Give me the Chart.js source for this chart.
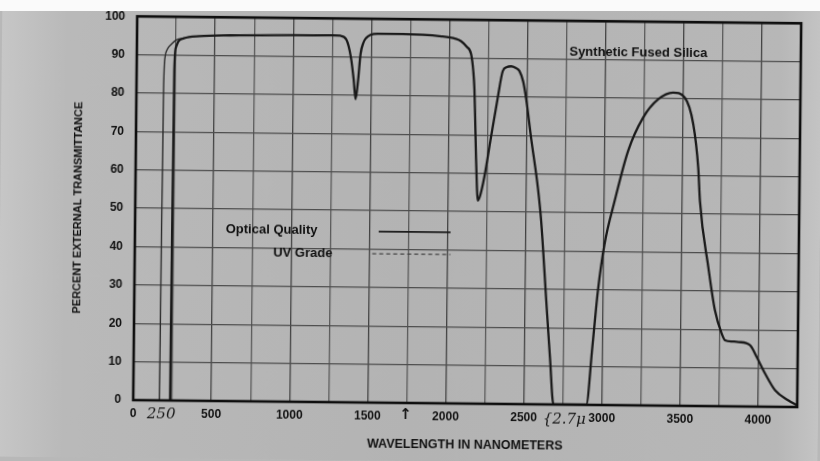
<!DOCTYPE html>
<html>
<head>
<meta charset="utf-8">
<title>Synthetic Fused Silica transmittance</title>
<script src="https://cdn.jsdelivr.net/npm/chart.js@4.4.1/dist/chart.umd.min.js"></script>
<style>
  html, body { margin: 0; padding: 0; background: #b8b8b8; overflow: hidden; }
  #wrap { position: relative; width: 820px; height: 461px; }
  #chart { position: absolute; left: 0; top: 0; transform: rotate(0.6deg); }
  #page { position: absolute; left: 0; top: 0; width: 820px; height: 11px; background: #fafafa; }
</style>
</head>
<body>
<div id="wrap">
  <canvas id="chart" width="820" height="461"></canvas>
  <div id="page"></div>
</div>
<script>
// Optical Quality curve (wavelength nm / % transmittance)
const oqWavelength = [236, 238, 241, 250, 265, 300, 400, 600, 1000, 1250, 1300, 1340, 1370, 1390, 1403, 1418, 1432,
  1450, 1465, 1495, 1540, 1700, 1950, 2040, 2075, 2110, 2140, 2155, 2163, 2170, 2178, 2185, 2191, 2205, 2232,
  2272, 2313, 2343, 2370, 2396, 2425, 2450, 2475, 2494, 2529, 2576, 2599, 2637, 2665, 2690, 2900, 2935, 2967,
  3006, 3068, 3151, 3245, 3340, 3435, 3510, 3566, 3601, 3614, 3672, 3717, 3762, 3784, 3830, 3870, 3944, 3988,
  4043, 4108, 4194, 4250];
const oqTransmit = [0, 45, 86, 92, 93.6, 94.4, 95, 95.3, 95.5, 95.6, 95.5, 94.5, 90, 84, 79, 84, 90.8,
  93.8, 94.9, 95.8, 96.1, 96.1, 95.6, 95, 94.4, 93, 91, 86.5, 82, 74, 64, 57, 52.9, 54, 59,
  69.4, 79.8, 86.7, 87.8, 88, 87.6, 86.8, 84, 79.8, 69.4, 56.4, 47.8, 27, 12, 0, 0, 15, 29.8,
  41.9, 53.2, 66.3, 75, 79.8, 81.6, 80.3, 73.4, 62, 53.4, 36.2, 25, 18.9, 17.2, 16.9, 16.8, 16, 12.9,
  8.6, 4.3, 1.7, 0.4];

// UV Grade curve (only the part that differs from Optical Quality)
const uvWavelength = [168, 170, 174, 181, 195, 220, 255, 300];
const uvTransmit = [0, 45, 82, 89.5, 91.5, 92.8, 94, 94.4];

const xTicksMax = 4250;
const fontFam = "'Liberation Sans', Arial, sans-serif";

function toPoints(xs, ys) {
  return xs.map((x, i) => ({ x: x, y: ys[i] }));
}

const scanPlugin = {
  id: 'scan',
  beforeDraw(chart) {
    const c = chart.ctx;
    c.save();
    // scanned paper: a bit lighter at the outer edges
    const g = c.createLinearGradient(0, 0, chart.width, 0);
    g.addColorStop(0, '#c6c6c6');
    g.addColorStop(0.08, '#b9b9b9');
    g.addColorStop(0.5, '#b3b3b3');
    g.addColorStop(0.95, '#b7b7b7');
    g.addColorStop(1, '#c4c4c4');
    c.fillStyle = g;
    c.fillRect(0, 0, chart.width, chart.height);
    c.restore();
  },
  afterDraw(chart) {
    const c = chart.ctx;
    const a = chart.chartArea;
    const xs = chart.scales.x;
    const ys = chart.scales.y;
    c.save();

    // frame
    c.strokeStyle = '#0e0e0e';
    c.lineWidth = 2.6;
    c.strokeRect(a.left, a.top, a.right - a.left, a.bottom - a.top);

    // title inside plot
    c.fillStyle = '#111';
    c.font = 'bold 13px ' + fontFam;
    c.textBaseline = 'middle';
    c.textAlign = 'left';
    c.fillText('Synthetic Fused Silica', xs.getPixelForValue(2768), ys.getPixelForValue(91.8));

    // legend
    c.textAlign = 'right';
    c.fillText('Optical Quality', xs.getPixelForValue(1168), ys.getPixelForValue(44.6));
    c.fillText('UV Grade', xs.getPixelForValue(1265), ys.getPixelForValue(38.6));
    c.strokeStyle = '#1b1b1b';
    c.lineWidth = 1.6;
    c.beginPath();
    c.moveTo(xs.getPixelForValue(1560), ys.getPixelForValue(44.6));
    c.lineTo(xs.getPixelForValue(2020), ys.getPixelForValue(44.6));
    c.stroke();
    c.strokeStyle = '#444';
    c.lineWidth = 1.2;
    c.setLineDash([4, 3]);
    c.beginPath();
    c.moveTo(xs.getPixelForValue(1520), ys.getPixelForValue(38.8));
    c.lineTo(xs.getPixelForValue(2020), ys.getPixelForValue(38.8));
    c.stroke();
    c.setLineDash([]);

    // handwritten notes under the axis
    c.font = 'italic 15px "DejaVu Serif", serif';
    c.textAlign = 'center';
    c.fillStyle = '#161616';
    c.fillText('250', xs.getPixelForValue(180), a.bottom + 14);
    c.font = 'bold 15px "DejaVu Sans", sans-serif';
    c.fillText('\u2191', xs.getPixelForValue(1745), a.bottom + 12);
    c.font = 'italic 15px "DejaVu Serif", serif';
    c.fillText('{2.7\u03bc', xs.getPixelForValue(2760), a.bottom + 15);
    c.restore();
  }
};

new Chart(document.getElementById('chart'), {
  type: 'line',
  data: {
    datasets: [
      {
        label: 'Optical Quality',
        data: toPoints(oqWavelength, oqTransmit),
        borderColor: '#1a1a1a',
        borderWidth: 2.3,
        pointRadius: 0,
        fill: false,
        cubicInterpolationMode: 'monotone',
        order: 0
      },
      {
        label: 'UV Grade',
        data: toPoints(uvWavelength, uvTransmit),
        borderColor: '#2b2b2b',
        borderWidth: 1.4,
        pointRadius: 0,
        fill: false,
        cubicInterpolationMode: 'monotone',
        order: 1
      }
    ]
  },
  options: {
    responsive: false,
    animation: false,
    devicePixelRatio: 1,
    layout: { padding: { top: 18, right: 21, left: 0, bottom: 0 } },
    plugins: { legend: { display: false }, tooltip: { enabled: false } },
    scales: {
      x: {
        type: 'linear',
        min: 0,
        max: xTicksMax,
        afterFit(s) { s.height = 58; },
        border: { display: false },
        grid: {
          drawTicks: false,
          lineWidth: 1.3,
          color: (ctx) => (ctx.tick && ctx.tick.value % 500 === 0 ? '#434343' : '#5a5a5a')
        },
        ticks: {
          stepSize: 250,
          autoSkip: false,
          maxRotation: 0,
          padding: 6,
          color: '#121212',
          font: { family: fontFam, weight: 'bold', size: 12 },
          callback: (v) => (v % 500 === 0 ? String(v) : '')
        },
        title: {
          display: true,
          text: 'WAVELENGTH IN NANOMETERS',
          color: '#111',
          font: { family: fontFam, weight: 'bold', size: 12.5 },
          padding: { top: 0, bottom: 8.5 }
        }
      },
      y: {
        min: 0,
        max: 100,
        afterFit(s) { s.width = 135; },
        border: { display: false },
        grid: { drawTicks: false, lineWidth: 1.3, color: '#4e4e4e' },
        ticks: {
          stepSize: 10,
          padding: 12,
          color: '#121212',
          font: { family: fontFam, weight: 'bold', size: 12 }
        },
        title: {
          display: true,
          text: 'PERCENT EXTERNAL TRANSMITTANCE',
          color: '#111',
          font: { family: fontFam, weight: 'bold', size: 11 },
          padding: { top: 71, bottom: 0 }
        }
      }
    }
  },
  plugins: [scanPlugin]
});
</script>
</body>
</html>
